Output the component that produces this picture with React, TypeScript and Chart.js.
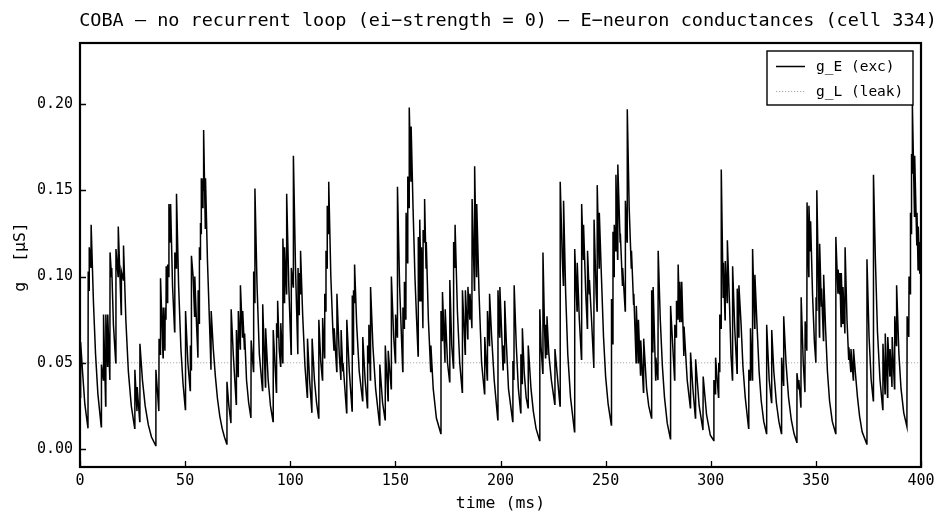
import { useEffect, useRef } from "react"
import { Chart, registerables, type Plugin } from "chart.js"

Chart.register(...registerables)

const MONO = "'DejaVu Sans Mono', monospace"

const TITLE = "COBA — no recurrent loop (ei−strength = 0) — E−neuron conductances (cell 334)"
const X_TITLE = "time (ms)"
const Y_TITLE = "g  [µS]"
const SERIES_LABELS = ["g_E (exc)", "g_L (leak)"]

const X_TICKS = [0, 50, 100, 150, 200, 250, 300, 350, 400]
const Y_TICKS = [0, 0.05, 0.1, 0.15, 0.2]

// leak conductance (flat)
const G_LEAK = 0.05

// g_E trace, [time ms, conductance µS]
const TRACE_0_100: [number, number][] = [
  [0, 0.03], [0.3, 0.062], [1.2, 0.045], [2.3, 0.026], [3.8, 0.012],
  [3.9, 0.103], [4.3, 0.092], [4.4, 0.117], [5.2, 0.105], [5.3, 0.13], [6.4, 0.085], [7.4, 0.055], [8.5, 0.032], [10.1, 0.013],
  [10.2, 0.049], [11.1, 0.04], [11.2, 0.078], [12.2, 0.025], [12.3, 0.078], [13.1, 0.048], [13.2, 0.078], [14.2, 0.04],
  [14.3, 0.114], [15.0, 0.1], [15.1, 0.105], [15.9, 0.072], [17.0, 0.05], [17.1, 0.116], [18.1, 0.1], [18.2, 0.129],
  [19.0, 0.1], [19.6, 0.078], [19.7, 0.103], [20.6, 0.098], [20.7, 0.118], [21.8, 0.075], [23.0, 0.045], [24.4, 0.025], [26.0, 0.012],
  [26.1, 0.046], [27.1, 0.022], [27.2, 0.036], [28.4, 0.016], [28.5, 0.061], [29.7, 0.04], [31.0, 0.025], [32.5, 0.014], [34.0, 0.007], [36.0, 0.002],
  [36.1, 0.046], [37.5, 0.022], [37.6, 0.064], [38.2, 0.055], [38.3, 0.099], [39.5, 0.053], [39.6, 0.082], [40.4, 0.057],
  [40.5, 0.082], [40.9, 0.075], [41.0, 0.106], [41.6, 0.085], [41.7, 0.107], [42.2, 0.1], [42.3, 0.142], [43.0, 0.12],
  [43.1, 0.142], [44.0, 0.095], [45.0, 0.068], [45.1, 0.114], [45.8, 0.105], [45.9, 0.148], [46.9, 0.095], [48.0, 0.058], [49.0, 0.038], [50.1, 0.023],
  [50.2, 0.08], [51.3, 0.05], [52.4, 0.034], [52.5, 0.06], [52.9, 0.046], [53.0, 0.112], [53.8, 0.1], [54.5, 0.077],
  [54.6, 0.1], [55.5, 0.07], [56.1, 0.053], [56.2, 0.092], [56.7, 0.073], [56.8, 0.117], [57.2, 0.11], [57.3, 0.131],
  [57.6, 0.125], [57.7, 0.157], [58.4, 0.14], [58.5, 0.157], [58.7, 0.15], [58.8, 0.185], [59.6, 0.128], [59.7, 0.157],
  [60.6, 0.11], [61.6, 0.073], [62.3, 0.046], [62.4, 0.08], [63.4, 0.058], [64.4, 0.042], [65.4, 0.029], [66.5, 0.019],
  [67.6, 0.012], [68.7, 0.007], [69.8, 0.003],
  [69.9, 0.039], [70.8, 0.025], [71.8, 0.015], [71.9, 0.081], [72.9, 0.055], [74.3, 0.026], [74.4, 0.069], [75.2, 0.042],
  [75.3, 0.08], [76.2, 0.058], [76.3, 0.095], [77.3, 0.065], [77.4, 0.08], [78.2, 0.058], [78.3, 0.067], [79.2, 0.04],
  [80.2, 0.027], [81.3, 0.018], [81.4, 0.063], [82.5, 0.045], [82.6, 0.103], [83.1, 0.085], [83.2, 0.151], [84.2, 0.095],
  [85.3, 0.055], [86.8, 0.034], [86.9, 0.084], [88.2, 0.036], [88.3, 0.07], [89.5, 0.04], [90.6, 0.025], [91.8, 0.016],
  [91.9, 0.069], [93.4, 0.033], [93.5, 0.073], [93.9, 0.065], [94.0, 0.086], [94.8, 0.057], [95.4, 0.048], [95.5, 0.073],
  [96.4, 0.05], [96.5, 0.122], [97.2, 0.085], [97.3, 0.117], [98.2, 0.09], [98.3, 0.148], [99.3, 0.095], [100.4, 0.055],
]

const TRACE_100_200: [number, number][] = [
  [100.5, 0.105], [101.4, 0.094], [101.5, 0.17], [102.5, 0.105], [103.6, 0.055], [103.7, 0.105], [104.2, 0.078], [104.3, 0.102],
  [104.8, 0.09], [104.9, 0.115], [105.9, 0.078], [107.0, 0.048], [108.1, 0.03], [108.2, 0.064], [109.2, 0.04], [110.3, 0.021],
  [110.4, 0.064], [111.5, 0.04], [112.5, 0.027], [113.5, 0.018], [113.6, 0.075], [114.5, 0.051], [115.3, 0.04], [115.4, 0.076],
  [116.3, 0.053], [116.4, 0.09], [116.9, 0.08], [117.0, 0.115], [117.5, 0.105], [117.6, 0.141], [118.2, 0.125], [118.3, 0.155],
  [119.3, 0.1], [120.3, 0.068], [120.8, 0.057], [120.9, 0.07], [122.1, 0.045], [122.2, 0.09], [123.3, 0.055], [124.1, 0.04],
  [124.2, 0.069], [125.0, 0.045], [125.1, 0.05], [126.8, 0.021], [126.9, 0.075], [128.1, 0.045], [129.4, 0.022], [129.5, 0.089],
  [130.0, 0.055], [130.1, 0.092], [130.5, 0.085], [130.6, 0.107], [131.6, 0.072], [132.8, 0.045], [134.4, 0.028], [134.5, 0.065],
  [135.6, 0.04], [136.7, 0.024], [136.8, 0.06], [137.3, 0.05], [137.4, 0.072], [138.1, 0.04], [138.2, 0.094], [139.3, 0.06],
  [140.6, 0.035], [142.5, 0.014], [142.6, 0.049], [143.9, 0.027], [145.1, 0.017], [145.2, 0.06], [146.5, 0.028], [146.6, 0.057],
  [148.0, 0.035], [148.1, 0.1], [149.2, 0.065], [150.0, 0.05], [150.1, 0.078], [150.9, 0.065], [151.0, 0.152], [152.0, 0.095],
  [153.5, 0.045], [153.6, 0.082], [154.2, 0.07], [154.3, 0.097], [155.0, 0.075], [155.1, 0.137], [155.8, 0.108], [155.9, 0.158],
  [156.5, 0.14], [156.6, 0.198], [157.4, 0.155], [157.5, 0.187], [158.4, 0.14], [159.3, 0.1], [160.1, 0.075], [160.8, 0.054],
  [160.9, 0.123], [161.5, 0.086], [161.6, 0.133], [162.3, 0.086], [162.4, 0.117], [163.1, 0.07], [163.2, 0.127], [163.8, 0.12],
  [163.9, 0.145], [164.6, 0.105], [164.7, 0.12], [165.7, 0.075], [166.8, 0.045], [166.9, 0.06], [168.0, 0.035], [169.5, 0.018], [171.6, 0.009],
  [171.7, 0.08], [172.3, 0.063], [172.4, 0.091], [173.6, 0.05], [173.7, 0.081], [174.8, 0.05], [175.8, 0.039], [175.9, 0.098],
  [176.8, 0.06], [177.6, 0.047], [177.7, 0.12], [178.3, 0.105], [178.4, 0.13], [179.5, 0.08], [180.6, 0.05], [181.8, 0.033],
  [181.9, 0.092], [183.2, 0.055], [183.3, 0.092], [184.4, 0.064], [184.5, 0.094], [185.4, 0.075], [185.5, 0.09], [186.4, 0.07],
  [186.5, 0.145], [187.6, 0.092], [187.7, 0.164], [188.6, 0.1], [188.7, 0.142], [189.8, 0.09], [191.0, 0.05], [192.4, 0.032],
  [192.5, 0.065], [193.7, 0.04], [193.8, 0.08], [194.7, 0.06], [194.8, 0.09], [195.8, 0.065], [197.0, 0.04], [198.7, 0.017],
]

const TRACE_200_300: [number, number][] = [
  [198.8, 0.092], [199.6, 0.065], [199.7, 0.094], [200.7, 0.063], [201.2, 0.046], [201.3, 0.06], [201.9, 0.05], [202.0, 0.086],
  [202.8, 0.061], [203.8, 0.035], [205.8, 0.016], [205.9, 0.051], [206.4, 0.04], [206.5, 0.095], [207.5, 0.06], [208.5, 0.035],
  [209.6, 0.021], [209.7, 0.055], [210.3, 0.038], [210.4, 0.07], [211.3, 0.044], [212.2, 0.03], [213.1, 0.024], [213.2, 0.06],
  [214.5, 0.035], [215.6, 0.022], [216.9, 0.012], [218.6, 0.005],
  [218.7, 0.081], [219.3, 0.059], [220.1, 0.044], [220.2, 0.114], [220.9, 0.072], [221.4, 0.053], [221.5, 0.072], [222.0, 0.055],
  [222.1, 0.077], [223.0, 0.055], [224.2, 0.04], [225.8, 0.026], [225.9, 0.058], [228.3, 0.025], [228.4, 0.155], [229.4, 0.11],
  [229.9, 0.095], [230.0, 0.144], [231.0, 0.09], [232.0, 0.055], [233.3, 0.03], [235.2, 0.01],
  [235.3, 0.116], [236.4, 0.08], [236.5, 0.108], [237.5, 0.075], [238.5, 0.052], [238.6, 0.142], [239.4, 0.11], [239.5, 0.13],
  [240.5, 0.092], [241.3, 0.07], [241.4, 0.115], [242.2, 0.09], [242.3, 0.098], [243.3, 0.075], [244.4, 0.047], [244.5, 0.133],
  [245.5, 0.09], [245.9, 0.08], [246.0, 0.153], [246.9, 0.105], [247.0, 0.137], [248.0, 0.1], [249.0, 0.065], [250.0, 0.042],
  [251.2, 0.026], [252.7, 0.014],
  [252.8, 0.087], [253.4, 0.061], [253.5, 0.126], [254.0, 0.1], [254.1, 0.13], [254.8, 0.115], [254.9, 0.159], [255.7, 0.11],
  [255.8, 0.165], [256.9, 0.12], [257.0, 0.125], [258.0, 0.095], [258.1, 0.105], [259.3, 0.08], [259.4, 0.144], [260.2, 0.12],
  [260.3, 0.197], [261.2, 0.14], [262.2, 0.105], [262.3, 0.115], [263.3, 0.084], [263.4, 0.09], [264.5, 0.05], [264.6, 0.083],
  [265.5, 0.05], [265.6, 0.075], [266.6, 0.043], [266.7, 0.063], [268.0, 0.033], [268.1, 0.064], [269.5, 0.035], [270.5, 0.025],
  [271.8, 0.018], [271.9, 0.092], [272.5, 0.056], [272.6, 0.094], [273.8, 0.04], [273.9, 0.053], [274.9, 0.04], [275.0, 0.115],
  [276.0, 0.075], [277.0, 0.048], [278.0, 0.03], [279.3, 0.015], [280.8, 0.006],
  [280.9, 0.083], [282.8, 0.04], [282.9, 0.072], [283.6, 0.065], [283.7, 0.086], [284.4, 0.075], [284.5, 0.107], [285.2, 0.074],
  [285.3, 0.097], [286.1, 0.074], [286.2, 0.097], [287.2, 0.054], [287.3, 0.071], [288.8, 0.04], [290.3, 0.024], [290.4, 0.056],
  [291.5, 0.035], [292.7, 0.018], [292.8, 0.052], [294.5, 0.025], [296.3, 0.011], [296.4, 0.042], [298.0, 0.02], [299.8, 0.008],
]

const TRACE_300_400: [number, number][] = [
  [301.4, 0.005], [301.5, 0.04], [302.2, 0.032], [302.3, 0.053], [303.7, 0.03], [303.8, 0.05], [304.2, 0.045], [304.3, 0.078],
  [304.9, 0.07], [305.0, 0.162], [305.9, 0.088], [306.0, 0.108], [306.8, 0.075], [306.9, 0.109], [307.8, 0.085], [307.9, 0.121],
  [308.9, 0.085], [309.6, 0.055], [310.3, 0.04], [310.4, 0.106], [311.4, 0.07], [312.5, 0.044], [312.6, 0.093], [313.3, 0.065],
  [313.4, 0.095], [314.4, 0.073], [315.3, 0.048], [316.4, 0.03], [318.0, 0.012],
  [318.1, 0.046], [318.8, 0.04], [318.9, 0.07], [319.8, 0.04], [319.9, 0.116], [320.9, 0.07], [321.0, 0.101], [322.0, 0.072],
  [323.0, 0.045], [324.0, 0.028], [325.2, 0.016], [326.5, 0.009], [326.6, 0.072], [327.8, 0.04], [328.9, 0.027], [329.0, 0.069],
  [330.0, 0.045], [331.2, 0.027], [332.4, 0.016], [333.6, 0.009], [333.7, 0.053], [334.6, 0.037], [334.7, 0.077], [335.8, 0.05],
  [337.0, 0.03], [338.3, 0.017], [339.6, 0.009], [340.9, 0.004],
  [341.0, 0.044], [341.8, 0.035], [341.9, 0.04], [342.9, 0.024], [343.0, 0.088], [344.0, 0.05], [344.8, 0.033], [344.9, 0.074],
  [345.7, 0.057], [345.8, 0.143], [346.6, 0.1], [346.7, 0.141], [347.4, 0.115], [347.5, 0.132], [348.4, 0.09], [349.3, 0.062],
  [350.0, 0.05], [350.1, 0.088], [350.4, 0.08], [350.5, 0.15], [351.7, 0.065], [351.8, 0.119], [352.6, 0.083], [352.7, 0.093],
  [353.6, 0.063], [353.7, 0.101], [354.6, 0.07], [355.5, 0.045], [356.5, 0.028], [357.8, 0.016], [359.4, 0.009],
  [359.5, 0.123], [360.5, 0.09], [360.6, 0.104], [361.3, 0.09], [361.4, 0.102], [362.0, 0.071], [362.1, 0.102], [362.8, 0.073],
  [362.9, 0.094], [363.8, 0.067], [363.9, 0.117], [364.8, 0.075], [365.6, 0.052], [365.7, 0.059], [366.6, 0.045], [366.7, 0.058],
  [367.8, 0.04], [367.9, 0.058], [368.8, 0.044], [369.8, 0.03], [370.8, 0.019], [372.0, 0.01], [374.2, 0.003],
  [374.3, 0.11], [375.3, 0.065], [376.3, 0.04], [377.3, 0.028], [377.4, 0.159], [378.3, 0.11], [379.3, 0.068], [380.5, 0.04],
  [381.8, 0.023], [381.9, 0.061], [382.9, 0.032], [383.0, 0.067], [384.1, 0.03], [384.2, 0.065], [385.2, 0.042], [385.3, 0.058],
  [386.2, 0.036], [386.3, 0.065], [387.4, 0.035], [387.5, 0.077], [388.3, 0.06], [388.4, 0.095], [389.5, 0.055], [390.5, 0.035],
  [391.8, 0.021], [393.3, 0.013],
  [393.4, 0.077], [394.2, 0.065], [394.3, 0.1], [394.9, 0.09], [395.0, 0.137], [395.4, 0.125], [395.5, 0.171], [395.8, 0.16],
  [395.9, 0.2], [396.9, 0.135], [397.0, 0.17], [398.0, 0.118], [398.1, 0.137], [398.6, 0.104], [398.7, 0.129], [399.4, 0.102],
  [399.5, 0.12], [400, 0.108],
]

const W = 948
const H = 525

// frame, inward ticks, titles and the legend box, matplotlib style
const axesDecor: Plugin<"line"> = {
  id: "axesDecor",
  afterDraw(chart) {
    const { ctx, chartArea: a, scales } = chart
    const xs = scales.x
    const ys = scales.y
    ctx.save()

    ctx.strokeStyle = "#000"
    ctx.lineWidth = 1.3
    ctx.beginPath()
    xs.ticks.forEach(t => {
      const px = Math.round(xs.getPixelForValue(t.value)) + 0.5
      ctx.moveTo(px, a.bottom)
      ctx.lineTo(px, a.bottom - 6)
    })
    ys.ticks.forEach(t => {
      const py = Math.round(ys.getPixelForValue(t.value)) + 0.5
      ctx.moveTo(a.left, py)
      ctx.lineTo(a.left + 6, py)
    })
    ctx.stroke()

    ctx.lineWidth = 2.2
    ctx.strokeRect(a.left, a.top, a.right - a.left, a.bottom - a.top)

    ctx.fillStyle = "#000"
    ctx.textAlign = "center"
    ctx.textBaseline = "middle"
    ctx.font = `18.5px ${MONO}`
    ctx.fillText(TITLE, 508, 21)
    ctx.font = `16.5px ${MONO}`
    ctx.fillText(X_TITLE, (a.left + a.right) / 2, 504)
    ctx.save()
    ctx.translate(21, (a.top + a.bottom) / 2 + 2)
    ctx.rotate(-Math.PI / 2)
    ctx.fillText(Y_TITLE, 0, 0)
    ctx.restore()

    // legend
    const lx = 767, ly = 51, lw = 146, lh = 54
    ctx.fillStyle = "#fff"
    ctx.fillRect(lx, ly, lw, lh)
    ctx.lineWidth = 1.4
    ctx.strokeStyle = "#000"
    ctx.strokeRect(lx, ly, lw, lh)
    ctx.beginPath()
    ctx.lineWidth = 1.5
    ctx.moveTo(776, 66.5)
    ctx.lineTo(805, 66.5)
    ctx.stroke()
    ctx.beginPath()
    ctx.setLineDash([1.2, 1.8])
    ctx.strokeStyle = "#a8a8a8"
    ctx.lineWidth = 1
    ctx.moveTo(776, 91.5)
    ctx.lineTo(805, 91.5)
    ctx.stroke()
    ctx.setLineDash([])
    ctx.fillStyle = "#000"
    ctx.textAlign = "left"
    ctx.font = `14.5px ${MONO}`
    ctx.fillText(SERIES_LABELS[0], 816, 67)
    ctx.fillText(SERIES_LABELS[1], 816, 92)

    ctx.restore()
  },
}

export default function App() {
  const canvasRef = useRef<HTMLCanvasElement>(null)

  useEffect(() => {
    if (!canvasRef.current) return
    Chart.getChart(canvasRef.current)?.destroy()

    const trace = [...TRACE_0_100, ...TRACE_100_200, ...TRACE_200_300, ...TRACE_300_400]
      .map(([t, g]) => ({ x: t, y: g }))
    const leak = [{ x: X_TICKS[0], y: G_LEAK }, { x: X_TICKS[X_TICKS.length - 1], y: G_LEAK }]

    const chart = new Chart(canvasRef.current, {
      type: "line",
      data: {
        datasets: [
          {
            label: SERIES_LABELS[0],
            data: trace,
            borderColor: "#000",
            borderWidth: 1.5,
            pointRadius: 0,
            tension: 0,
          },
          {
            label: SERIES_LABELS[1],
            data: leak,
            borderColor: "#a8a8a8",
            borderWidth: 1,
            borderDash: [1.2, 1.8],
            pointRadius: 0,
          },
        ],
      },
      options: {
        animation: false,
        responsive: true,
        maintainAspectRatio: false,
        events: [],
        layout: { padding: { top: 43, right: 27, left: 0, bottom: 0 } },
        plugins: {
          legend: { display: false },
          title: { display: false },
          tooltip: { enabled: false },
        },
        scales: {
          x: {
            type: "linear",
            min: 0,
            max: 400,
            afterBuildTicks: s => { s.ticks = X_TICKS.map(v => ({ value: v })) },
            afterFit: s => { s.height = 58 },
            grid: { drawOnChartArea: false, drawTicks: false },
            border: { display: false },
            ticks: {
              padding: 5,
              maxRotation: 0,
              color: "#000",
              font: { family: MONO, size: 15 },
              callback: v => String(v),
            },
          },
          y: {
            type: "linear",
            min: -0.0104,
            max: 0.2354,
            afterBuildTicks: s => { s.ticks = Y_TICKS.map(v => ({ value: v })) },
            afterFit: s => { s.width = 80 },
            grid: { drawOnChartArea: false, drawTicks: false },
            border: { display: false },
            ticks: {
              padding: 7,
              color: "#000",
              font: { family: MONO, size: 15 },
              callback: v => Number(v).toFixed(2),
            },
          },
        },
      },
      plugins: [axesDecor],
    })

    return () => { chart.destroy() }
  }, [])

  return (
    <div style={{ position: "fixed", left: 0, top: 0, width: W, height: H, background: "#fff" }}>
      <canvas ref={canvasRef} role="img" aria-label="E-neuron conductance trace" />
    </div>
  )
}
